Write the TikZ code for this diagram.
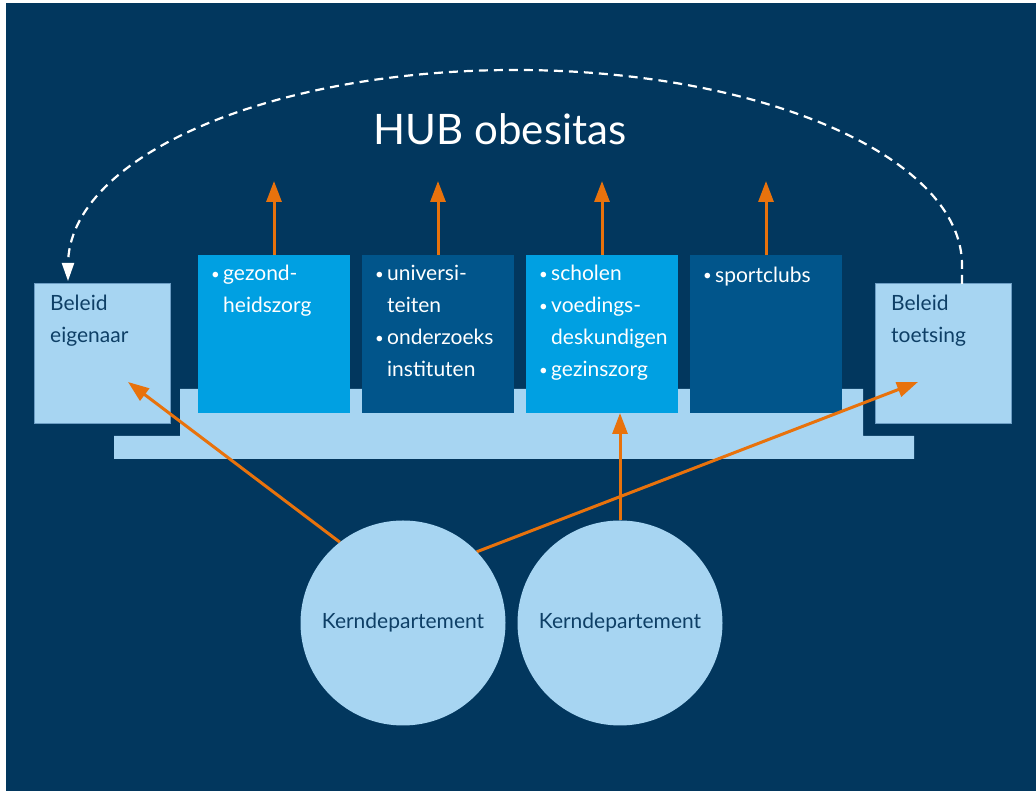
\documentclass[tikz,border=0pt]{standalone}
\usepackage{fontspec}
\setmainfont{Lato}
\usetikzlibrary{arrows.meta}
\usetikzlibrary{positioning}
\usetikzlibrary{calc}
\definecolor{hubnavy}{HTML}{02375E}
\definecolor{hubbright}{HTML}{00A0E2}
\definecolor{hubmid}{HTML}{01558B}
\definecolor{hublight}{HTML}{A7D5F2}
\definecolor{hubedge}{HTML}{6C9DC4}
\definecolor{hubink}{HTML}{0E3F66}
\definecolor{huborange}{HTML}{E8720C}
\pgfdeclarelayer{links}
\pgfdeclarelayer{top}
\pgfsetlayers{main,links,top}
\tikzset{
  % Orange arrow tips
  >={Triangle[length=21pt,width=15pt]},
  % Common styles for the hub
  sector/.style={rectangle, fill=#1, minimum width=152pt, minimum height=158pt, inner sep=0pt, outer sep=0pt},
  beleid/.style={rectangle, draw=hubedge, line width=1pt, fill=hublight, minimum width=136pt, minimum height=140pt, inner sep=0pt, outer sep=0pt},
  dept/.style={circle, fill=hublight, minimum size=205pt, inner sep=0pt, outer sep=0pt, text=hubink, font=\fontsize{21}{32}\selectfont},
  itemtxt/.style={inner sep=0pt, align=left, text=white, font=\fontsize{21}{32}\selectfont, execute at begin node=\rule{0pt}{17pt}},
  line/.style={draw=huborange, line width=3pt, ->},
  feedback/.style={draw=white, line width=2.2pt, dash pattern=on 9pt off 6pt, -{Triangle[length=18pt,width=12pt]}, shorten >=3pt}
}
\newcommand{\itm}[1]{\makebox[12pt][l]{\fontsize{15}{15}\selectfont\raisebox{1.5pt}{•}}#1}

\begin{document}
\begin{tikzpicture}[x=1pt, y=1pt]
    % Canvas and platform
    \useasboundingbox (0,0) rectangle (1036,791);
    \fill[hubnavy] (6,0) rectangle (1036,788);
    \fill[hublight] (180,402) -- (863,402) -- (863,355) -- (914,355) -- (914,332) -- (114,332) -- (114,355) -- (180,355) -- cycle;

    % Place nodes
    \node [sector=hubbright] (zorg) at (274,457) {};
    \node [sector=hubmid, right=12pt of zorg] (kennis) {};
    \node [sector=hubbright, right=12pt of kennis] (jeugd) {};
    \node [sector=hubmid, right=12pt of jeugd] (sport) {};
    \node [beleid] (eigenaar) at (102,437) {};
    \node [beleid] (toetsing) at (943,437) {};

    \node [itemtxt, below right=10pt and 13pt of zorg.north west] (zorgtxt) {\itm{gezond-}\\\hspace*{12pt}heidszorg};
    \node [itemtxt, below right=10pt and 13pt of kennis.north west] (kennistxt) {\itm{universi-}\\\hspace*{12pt}teiten\\\itm{onderzoeks}\\\hspace*{12pt}instituten};
    \node [itemtxt, below right=10pt and 13pt of jeugd.north west] (jeugdtxt) {\itm{scholen}\\\itm{voedings-}\\\hspace*{12pt}deskundigen\\\itm{gezinszorg}};
    \node [itemtxt, below right=10pt and 13pt of sport.north west] (sporttxt) {\itm{sportclubs}};
    \node [itemtxt, text=hubink, below right=11pt and 16pt of eigenaar.north west] (eigenaartxt) {Beleid\\eigenaar};
    \node [itemtxt, text=hubink, below right=11pt and 16pt of toetsing.north west] (toetsingtxt) {Beleid\\toetsing};

    \node [text=white, font=\fontsize{42}{50}\selectfont, anchor=base] (title) at (500,646) {HUB obesitas};

    \begin{pgfonlayer}{top}
    \node [dept] (kern1) at (403,168) {Kerndepartement};
    \node [dept, right=12pt of kern1] (kern2) {Kerndepartement};
    \end{pgfonlayer}

    \coordinate (eigtip) at ($(eigenaar.south east)+(-42,42)$);
    \coordinate (toetstip) at ($(toetsing.south west)+(43,42)$);
    \coordinate (arcR) at (962,526);
    \coordinate (arcL) at (68,526);

    % Draw edges
    \begin{pgfonlayer}{links}
    \foreach \b in {zorg,kennis,jeugd,sport}
        \path [line] (\b.north) -- ++(0,74);
    \path [line] (kern1.128) -- (eigtip);
    \path [line] (kern1.44) -- (toetstip);
    \path [line] (kern2.north) -- (kern2.north |- jeugd.south);
    \end{pgfonlayer}
    \path [feedback] (toetsing.north -| arcR) -- (arcR) arc[start angle=0, end angle=180, x radius=447, y radius=195] -- (eigenaar.north -| arcL);
\end{tikzpicture}
\end{document}
